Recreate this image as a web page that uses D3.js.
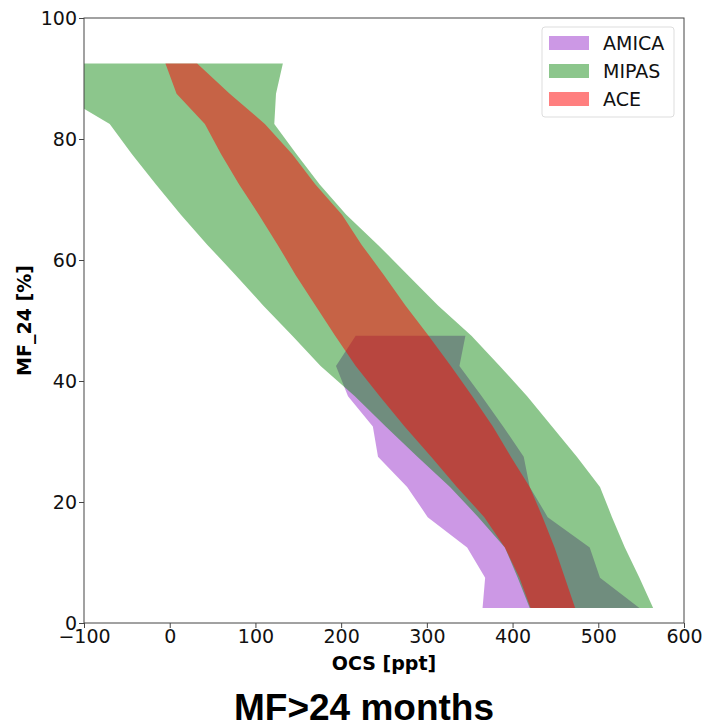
<!DOCTYPE html>
<html>
<head>
<meta charset="utf-8">
<script src="https://cdn.jsdelivr.net/npm/d3@7"></script>
<style>
  body { margin: 0; background: #fff; }
  text { font-family: "DejaVu Sans", sans-serif; }
</style>
</head>
<body>
<div id="chart"></div>
<script>
// y levels (MF_24 %), bottom to top
var levels = [2.5, 7.5, 12.5, 17.5, 22.5, 27.5, 32.5, 37.5, 42.5, 47.5,
              52.5, 57.5, 62.5, 67.5, 72.5, 77.5, 82.5, 87.5, 92.5];

// AMICA only covers the first 10 levels
var amicaLo = [365, 368, 347, 301, 277, 243, 237, 208, 194, 217];
var amicaHi = [548, 502, 490, 441, 420, 413, 389, 364, 338, 345];

var mipasLo = [420, 406, 391, 360, 327, 289, 252, 216, 176, 143,
               109, 77, 44, 13, -16, -44, -70, -130, -150];
var mipasHi = [564, 548, 531, 516, 502, 475, 446, 417, 385, 352,
               313, 278, 243, 206, 175, 148, 122, 124, 132];

var aceLo = [421, 408, 391, 367, 335, 305, 274, 245, 217, 193,
             170, 147, 126, 104, 81, 60, 41, 8, -5];
var aceHi = [473, 461, 449, 435, 420, 398, 377, 353, 328, 302,
             275, 250, 224, 201, 170, 143, 111, 70, 32];

var seriesNames = ["AMICA", "MIPAS", "ACE"];
var xTicks = [-100, 0, 100, 200, 300, 400, 500, 600];
var yTicks = [0, 20, 40, 60, 80, 100];

var svgWidth = 705;
var svgHeight = 727;
var margin = { top: 18, right: 21, bottom: 104, left: 84 };
var width = svgWidth - margin.left - margin.right;
var height = svgHeight - margin.top - margin.bottom;

var svg = d3.select("#chart")
  .append("svg")
  .attr("width", svgWidth)
  .attr("height", svgHeight);

var chartGroup = svg.append("g")
  .attr("transform", `translate(${margin.left}, ${margin.top})`);

var x = d3.scaleLinear().domain([-100, 600]).range([0, width]);
var y = d3.scaleLinear().domain([0, 100]).range([height, 0]);

chartGroup.append("clipPath").attr("id", "plotclip")
  .append("rect").attr("width", width).attr("height", height);

function band(lo, hi) {
  return lo.map((v, i) => ({ y: levels[i], lo: v, hi: hi[i] }));
}

var area = d3.area()
  .y(d => y(d.y))
  .x0(d => x(d.lo))
  .x1(d => x(d.hi));

var bands = [
  { name: seriesNames[0], data: band(amicaLo, amicaHi), color: "darkorchid", opacity: 0.5 },
  { name: seriesNames[1], data: band(mipasLo, mipasHi), color: "green", opacity: 0.45 },
  { name: seriesNames[2], data: band(aceLo, aceHi), color: "red", opacity: 0.5 }
];

var plot = chartGroup.append("g").attr("clip-path", "url(#plotclip)");
plot.selectAll("path.band")
  .data(bands)
  .enter()
  .append("path")
  .attr("class", "band")
  .attr("d", d => area(d.data))
  .attr("fill", d => d.color)
  .attr("fill-opacity", d => d.opacity);

// axes
var bottomAxis = d3.axisBottom(x).tickValues(xTicks)
  .tickFormat(d => d < 0 ? "\u2212" + Math.abs(d) : d)
  .tickSizeOuter(0).tickSize(5).tickPadding(2);
var leftAxis = d3.axisLeft(y).tickValues(yTicks)
  .tickSizeOuter(0).tickSize(5).tickPadding(2);

var gx = chartGroup.append("g")
  .attr("transform", `translate(0, ${height})`)
  .call(bottomAxis);
var gy = chartGroup.append("g").call(leftAxis);

[gx, gy].forEach(function(g) {
  g.selectAll("text").attr("font-size", "19px").attr("fill", "#111")
    .attr("font-family", "DejaVu Sans, sans-serif");
  g.selectAll("line").attr("stroke", "#444");
  g.select(".domain").remove();
});

// frame
chartGroup.append("rect")
  .attr("width", width)
  .attr("height", height)
  .attr("fill", "none")
  .attr("stroke", "#444")
  .attr("stroke-width", 1);

// axis labels
chartGroup.append("text")
  .attr("transform", `translate(${width / 2}, ${height + 47})`)
  .attr("text-anchor", "middle")
  .attr("font-size", "19px")
  .attr("font-weight", "bold")
  .text("OCS [ppt]");

chartGroup.append("text")
  .attr("transform", `translate(${-53}, ${height / 2}) rotate(-90)`)
  .attr("text-anchor", "middle")
  .attr("font-size", "19px")
  .attr("font-weight", "bold")
  .text("MF_24 [%]");

// title under the chart
svg.append("text")
  .attr("x", margin.left + width / 2 - 20)
  .attr("y", 720)
  .attr("text-anchor", "middle")
  .attr("font-size", "37px")
  .attr("font-weight", "bold")
  .style("font-family", "'Liberation Sans', Arial, sans-serif")
  .text("MF>24 months");

// legend
var legend = chartGroup.append("g")
  .attr("transform", `translate(${width - 142}, 9)`);
legend.append("rect")
  .attr("width", 132)
  .attr("height", 90)
  .attr("rx", 3)
  .attr("fill", "#fff")
  .attr("fill-opacity", 0.8)
  .attr("stroke", "#ddd");

var legendItem = legend.selectAll("g.item")
  .data(bands)
  .enter()
  .append("g")
  .attr("class", "item")
  .attr("transform", (d, i) => `translate(7, ${16 + i * 28})`);
legendItem.append("rect")
  .attr("y", -7)
  .attr("width", 40)
  .attr("height", 14)
  .attr("fill", d => d.color)
  .attr("fill-opacity", d => d.opacity);
legendItem.append("text")
  .attr("x", 54)
  .attr("dy", "0.35em")
  .attr("font-size", "19px")
  .attr("fill", "#111")
  .text(d => d.name);
</script>
</body>
</html>
